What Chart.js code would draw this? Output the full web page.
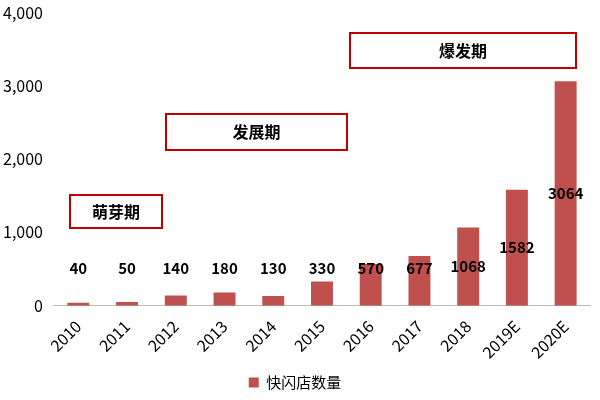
<!DOCTYPE html>
<html><head><meta charset="utf-8">
<script src="https://cdn.jsdelivr.net/npm/chart.js@4/dist/chart.umd.min.js"></script>
<style>body{margin:0;background:#fff}#w{width:600px;height:400px}</style>
</head><body><div id="w"><canvas id="c"></canvas></div>
<script>
const categories=['2010','2011','2012','2013','2014','2015','2016','2017','2018','2019E','2020E'];
const values=[40,50,140,180,130,330,570,677,1068,1582,3064];
const seriesName='快闪店数量';
const phases=[{t:'萌芽期',x0:70,y0:195,x1:162,y1:228},{t:'发展期',x0:166,y0:114,x1:347,y1:150},{t:'爆发期',x0:350,y0:33,x1:576,y1:68}];
const F='"Noto Sans CJK SC","Noto Sans",sans-serif';
const deco={id:'deco',afterDatasetsDraw(ch){
 const c=ch.ctx;const m=ch.getDatasetMeta(0);const ys=ch.scales.y;
 c.save();c.font='bold 15px '+F;c.fillStyle='#000';c.textAlign='center';c.textBaseline='middle';
 m.data.forEach((b,i)=>{const mid=(b.y+ys.getPixelForValue(0))/2;c.fillText(values[i],b.x,Math.min(mid,268));});
 phases.forEach(p=>{c.fillStyle='#fff';c.fillRect(p.x0,p.y0,p.x1-p.x0,p.y1-p.y0);c.strokeStyle='#C00000';c.lineWidth=2;c.strokeRect(p.x0,p.y0,p.x1-p.x0,p.y1-p.y0);
  c.fillStyle='#000';c.font='bold 16px '+F;c.fillText(p.t,(p.x0+p.x1)/2,(p.y0+p.y1)/2);});
 c.restore();}};
new Chart(document.getElementById('c'),{type:'bar',
 data:{labels:categories,datasets:[{label:seriesName,data:values,backgroundColor:'#C0504D',barPercentage:0.5,categoryPercentage:0.9}]},
 options:{responsive:true,maintainAspectRatio:false,animation:false,
  layout:{padding:{left:0,right:10,top:8,bottom:0}},
  plugins:{legend:{position:'bottom',labels:{boxWidth:10,boxHeight:10,font:{size:15,family:F},color:'#000'}},tooltip:{enabled:false}},
  scales:{x:{grid:{display:false},border:{color:'#bbb'},ticks:{maxRotation:45,minRotation:45,font:{size:16,family:F},color:'#000'}},
   y:{min:0,max:4000,grid:{display:false},border:{display:false},ticks:{stepSize:1000,font:{size:16,family:F},color:'#000'}}}},
 plugins:[deco]});
</script></body></html>
